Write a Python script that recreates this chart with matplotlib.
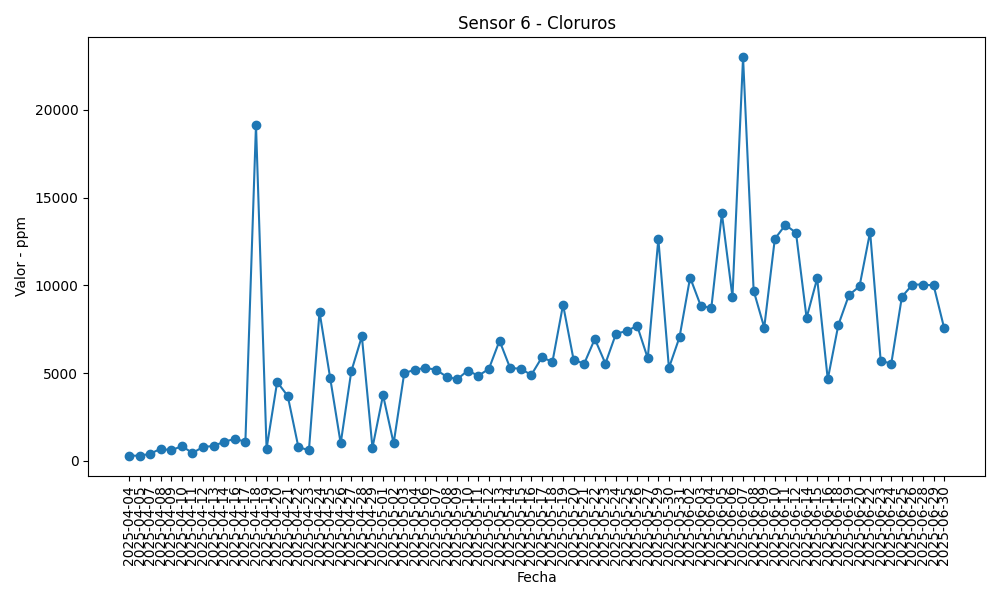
import matplotlib
matplotlib.use('Agg')
import matplotlib.pyplot as plt

april = [4, 5, 7, 8, 9, 10, 11, 12, 13, 14, 16, 17, 18, 19, 20, 21, 22, 23, 24, 25, 26, 27, 28, 29]
may = [1, 2, 3, 4, 6, 7, 8, 9, 10, 11, 12, 13, 14, 15, 16, 17, 18, 19, 20, 21, 22, 23, 24, 25, 26, 27,
       29, 30, 31]
june = [2, 3, 4, 5, 6, 7, 8, 9, 10, 11, 12, 14, 15, 16, 18, 19, 20, 22, 23, 24, 25, 26, 28, 29, 30]

fechas = ([f'2025-04-{d:02d}' for d in april] + [f'2025-05-{d:02d}' for d in may]
          + [f'2025-06-{d:02d}' for d in june])

valores = [300, 300, 400, 700, 600, 850, 450, 800, 850, 1100, 1250, 1100, 19150, 700, 4500, 3700,
           800, 600, 8500, 4750, 1000, 5100, 7100, 750, 3750, 1000, 5000, 5200, 5300, 5200, 4800,
           4650, 5150, 4850, 5250, 6850, 5300, 5250, 4900, 5900, 5650, 8900, 5750, 5550, 6950, 5550,
           7250, 7400, 7700, 5850, 12650, 5300, 7050, 10450, 8850, 8700, 14100, 9350, 23000, 9700,
           7600, 12650, 13450, 13000, 8150, 10400, 4650, 7750, 9450, 9950, 13050, 5700, 5550, 9350,
           10050, 10050, 10000, 7550]

fig, ax = plt.subplots(figsize=(10, 6), dpi=100)
ax.plot(fechas, valores, marker='o')
ax.set_title('Sensor 6 - Cloruros')
ax.set_xlabel('Fecha')
ax.set_ylabel('Valor - ppm')
plt.xticks(rotation=90)
plt.tight_layout()
plt.savefig('out.png')
